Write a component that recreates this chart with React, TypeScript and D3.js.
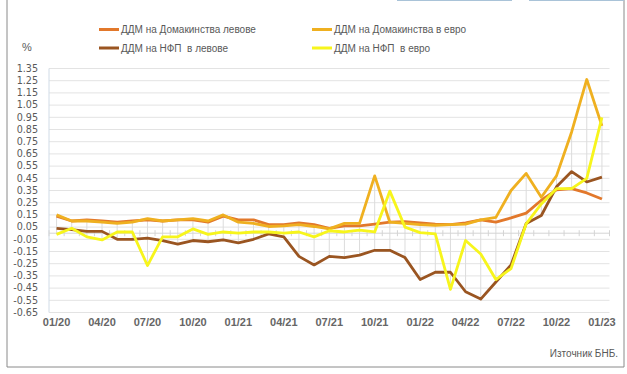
import React from "react"
import * as d3 from "d3"

// months on the category axis, 01/20 .. 01/23
const months = [
  "01/20", "02/20", "03/20", "04/20", "05/20", "06/20", "07/20", "08/20", "09/20", "10/20", "11/20", "12/20",
  "01/21", "02/21", "03/21", "04/21", "05/21", "06/21", "07/21", "08/21", "09/21", "10/21", "11/21", "12/21",
  "01/22", "02/22", "03/22", "04/22", "05/22", "06/22", "07/22", "08/22", "09/22", "10/22", "11/22", "12/22",
  "01/23",
]
const shownLabels = ["01/20", "04/20", "07/20", "10/20", "01/21", "04/21", "07/21", "10/21", "01/22", "04/22", "07/22", "10/22", "01/23"]

const yTicks = [1.35, 1.25, 1.15, 1.05, 0.95, 0.85, 0.75, 0.65, 0.55, 0.45, 0.35, 0.25, 0.15, 0.05,
  -0.05, -0.15, -0.25, -0.35, -0.45, -0.55, -0.65]

// ДДМ на Домакинства левове
const hhBgn = [0.14, 0.10, 0.11, 0.10, 0.09, 0.10, 0.11, 0.10, 0.11, 0.11, 0.09, 0.14,
  0.11, 0.11, 0.07, 0.07, 0.085, 0.07, 0.04, 0.06, 0.06, 0.075, 0.09, 0.095,
  0.085, 0.075, 0.07, 0.085, 0.11, 0.09, 0.125, 0.165, 0.27, 0.355, 0.365, 0.33, 0.28]
// ДДМ на Домакинства в евро
const hhEur = [0.15, 0.10, 0.10, 0.09, 0.08, 0.09, 0.12, 0.10, 0.11, 0.12, 0.10, 0.15,
  0.09, 0.08, 0.055, 0.06, 0.07, 0.055, 0.035, 0.08, 0.08, 0.47, 0.09, 0.08,
  0.07, 0.065, 0.07, 0.075, 0.11, 0.13, 0.35, 0.49, 0.295, 0.47, 0.83, 1.26, 0.88]
// ДДМ на НФП в левове
const nfcBgn = [0.04, 0.03, 0.015, 0.015, -0.05, -0.05, -0.04, -0.06, -0.09, -0.06, -0.07, -0.055,
  -0.08, -0.05, -0.005, -0.03, -0.19, -0.26, -0.19, -0.20, -0.18, -0.14, -0.14, -0.20,
  -0.38, -0.32, -0.32, -0.48, -0.54, -0.40, -0.26, 0.08, 0.145, 0.38, 0.505, 0.42, 0.46]
// ДДМ на НФП в евро
const nfcEur = [-0.01, 0.04, -0.03, -0.055, 0.01, 0.01, -0.265, -0.03, -0.03, 0.035, -0.01, 0.01,
  0.0, 0.01, 0.01, 0.0, 0.01, -0.03, 0.02, 0.01, 0.025, 0.01, 0.345, 0.05,
  0.005, -0.005, -0.46, -0.06, -0.17, -0.38, -0.29, 0.077, 0.24, 0.365, 0.365, 0.45, 0.95]

const series = [
  { name: "ДДМ на Домакинства левове", values: hhBgn, color: "#e2782b" },
  { name: "ДДМ на Домакинства в евро", values: hhEur, color: "#efb020" },
  { name: "ДДМ на НФП  в левове", values: nfcBgn, color: "#9a5521" },
  { name: "ДДМ на НФП  в евро", values: nfcEur, color: "#f7f51c" },
]

const W = 627
const H = 374
const left = 49
const right = 609.5
const top = 68.5
const bottom = 312.5

export default function App() {
  const x = d3.scaleBand().domain(months).range([left, right])
  const y = d3.scaleLinear().domain([-0.65, 1.35]).range([bottom, top])
  const cx = (m: string) => (x(m) as number) + x.bandwidth() / 2
  const y0 = y(0)

  const line = d3.line<number>()
    .x((d, i) => cx(months[i]))
    .y(d => y(d))

  const font = "'Liberation Sans', Arial, sans-serif"
  const grey = "#595959"

  // legend placement: two rows, two columns
  const legendCols = [99, 312]
  const legendRows = [29.5, 48]
  const legendOrder = [0, 1, 2, 3]

  return (
    <svg width={W} height={H} style={{ position: "absolute", left: 0, top: 0, background: "#fff" }}>
      {/* page frame */}
      <line x1={7} x2={7} y1={0} y2={367} stroke="#8a8a8a" />
      <line x1={624} x2={624} y1={0} y2={367} stroke="#8a8a8a" />
      <line x1={7} x2={624} y1={367} y2={367} stroke="#8a8a8a" />
      <line x1={397} x2={512} y1={0.5} y2={0.5} stroke="#a9c3d8" />
      <line x1={529} x2={624} y1={0.5} y2={0.5} stroke="#a9c3d8" />

      {/* horizontal grid */}
      {yTicks.map(t => (
        <line key={t} x1={left} x2={right} y1={y(t)} y2={y(t)} stroke="#e3e3e3" strokeWidth={1} />
      ))}
      <line x1={left} x2={left} y1={top} y2={bottom} stroke="#d0dbe6" />

      {/* high-low lines */}
      {months.map((m, i) => {
        const vals = series.map(s => s.values[i])
        return (
          <line key={m} x1={cx(m)} x2={cx(m)} y1={y(d3.min(vals) as number)} y2={y(d3.max(vals) as number)}
            stroke="#dcdcdc" strokeWidth={1} />
        )
      })}

      {/* zero axis with cross ticks */}
      <line x1={left} x2={right} y1={y0} y2={y0} stroke="#d4d4d4" />
      {months.map(m => (
        <line key={m} x1={x(m) as number} x2={x(m) as number} y1={y0 - 3} y2={y0 + 3} stroke="#d4d4d4" />
      ))}
      <line x1={right} x2={right} y1={y0 - 3} y2={y0 + 3} stroke="#d4d4d4" />

      {/* series */}
      {series.map(s => (
        <path key={s.name} d={line(s.values) as string} fill="none" stroke={s.color}
          strokeWidth={2.8} strokeLinejoin="round" />
      ))}

      {/* y labels */}
      {yTicks.map(t => (
        <text key={t} x={38} y={y(t)} dy="0.35em" textAnchor="end" fontFamily="'DejaVu Sans', sans-serif"
          fontSize={9.6} fill={grey}>{t.toFixed(2)}</text>
      ))}
      <text x={27} y={51} textAnchor="middle" fontFamily={font} fontSize={11} fill={grey}>%</text>

      {/* x labels */}
      {shownLabels.map(m => (
        <text key={m} x={cx(m)} y={326} textAnchor="middle" fontFamily={font} fontWeight="bold"
          fontSize={11} fill="#666">{m}</text>
      ))}

      {/* legend */}
      {legendOrder.map(k => {
        const s = series[k]
        const lx = legendCols[k % 2]
        const ly = legendRows[Math.floor(k / 2)]
        return (
          <g key={s.name}>
            <line x1={lx} x2={lx + 20} y1={ly} y2={ly} stroke={s.color} strokeWidth={3} />
            <text x={lx + 22} y={ly} dy="0.35em" fontFamily={font} fontSize={10} fill={grey}
              style={{ whiteSpace: "pre" }}>{s.name}</text>
          </g>
        )
      })}

      <text x={618} y={357} textAnchor="end" fontFamily={font} fontSize={10} fill={grey}>Източник БНБ.</text>
    </svg>
  )
}
